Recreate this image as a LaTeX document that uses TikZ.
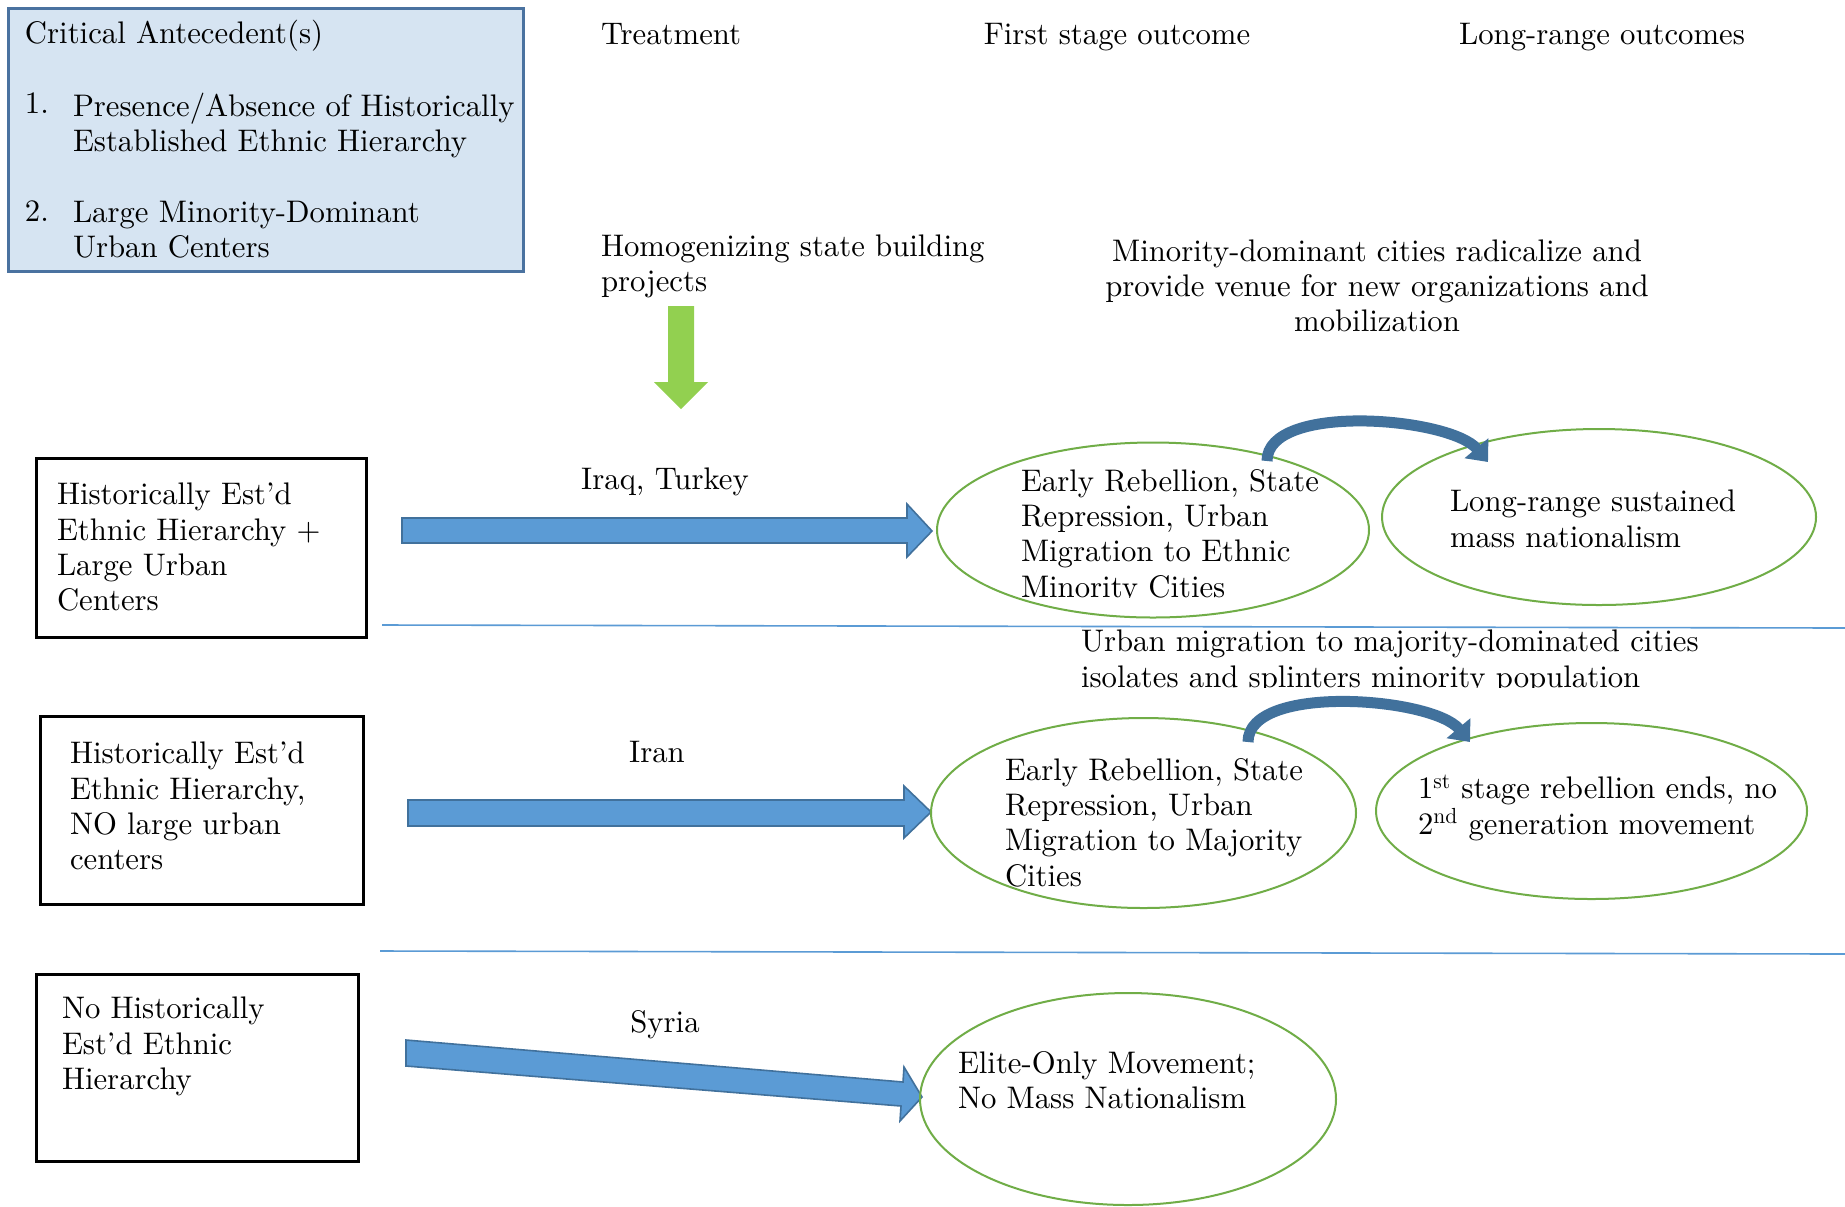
\documentclass[tikz,border=0pt]{standalone}
\usepackage{fontspec}
\setmainfont{lmroman10-regular.otf}[FakeStretch=0.985]
\usetikzlibrary{shapes.geometric,arrows.meta,calc}
\definecolor{boxfill}{RGB}{214,228,242}
\definecolor{boxline}{RGB}{74,114,160}
\definecolor{arrowfill}{RGB}{91,155,213}
\definecolor{arrowline}{RGB}{65,113,156}
\definecolor{curvecol}{RGB}{65,113,156}
\definecolor{greenarrow}{RGB}{146,208,80}
\definecolor{ellcol}{RGB}{112,173,71}
\definecolor{sepcol}{RGB}{91,155,213}
\begin{document}
\begin{tikzpicture}[x=0.5pt,y=-0.5pt,
  txt/.style={inner sep=0pt, outer sep=0pt, align=left, anchor=north west, font=\fontsize{15.6}{17.7}\selectfont},
  ctxt/.style={inner sep=0pt, outer sep=0pt, align=center, anchor=north, font=\fontsize{15.6}{17.7}\selectfont},
  casebox/.style={draw=black, line width=1.5pt, rectangle, inner sep=0pt},
  outcome/.style={draw=ellcol, line width=1pt, ellipse, inner sep=0pt},
  blockarrow/.style={fill=arrowfill, draw=arrowline, line width=0.8pt, line join=miter},
  curvearrow/.style={draw=curvecol, line width=5.5pt, -{Triangle[width=15pt,length=9pt]}},
  sepline/.style={draw=sepcol, line width=0.8pt}]
\useasboundingbox[fill=white] (0,0) rectangle (1845,1206);

% Critical antecedents box
\node[rectangle, fill=boxfill, draw=boxline, line width=1.5pt, minimum width=257.5pt, minimum height=131.5pt, inner sep=0pt] (crit) at (265.5,139.5) {};
\node[txt] (crittitle) at (25,20) {Critical Antecedent(s)};
\node[txt] (num1) at (25,93) {1.};
\node[txt] (item1) at (73,93) {Presence/Absence of Historically\\Established Ethnic Hierarchy};
\node[txt] (num2) at (25,201) {2.};
\node[txt] (item2) at (73,201) {Large Minority-Dominant\\Urban Centers};

% headers
\node[txt] (hTreat) at (601,23) {Treatment};
\node[ctxt] (hFirst) at (1117,23) {First stage outcome};
\node[ctxt] (hLong) at (1602,23) {Long-range outcomes};

\node[txt, font=\fontsize{15.6}{17.5}\selectfont] (homog) at (601,235) {Homogenizing state building\\projects};
\node[ctxt, font=\fontsize{15.6}{17.4}\selectfont] (radical) at (1377,240) {Minority-dominant cities radicalize and\\provide venue for new organizations and\\mobilization};

% green arrow
\fill[greenarrow] (668,306) -- (694,306) -- (694,382) -- (708,382) -- (681,409) -- (654,382) -- (668,382) -- cycle;

% separators
\draw[sepline] (382,625) -- (1845,628);
\draw[sepline] (380,951) -- (1845,954);

% Row 1
\node[casebox, minimum width=165pt, minimum height=89.5pt] (case1) at (201,547.5) {};
\node[txt] (case1t) at (57,483) {Historically Est'd\\Ethnic Hierarchy +\\Large Urban\\Centers};
\node[ctxt] (lab1) at (665,468) {Iraq, Turkey};
\draw[blockarrow] (402,518) -- (907,518) -- (907,504) -- (932,531) -- (907,557) -- (907,543) -- (402,543) -- cycle;
\node[outcome, minimum width=216pt, minimum height=87.5pt] (e1) at (1153,530) {};
\node[outcome, minimum width=217pt, minimum height=88pt] (e2) at (1599,517) {};
\begin{scope}
\clip (0,0) rectangle (1845,597);
\node[txt] (e1t) at (1021,469) {Early Rebellion, State\\Repression, Urban\\Migration to Ethnic\\Minority Cities};
\end{scope}
\node[txt] (e2t) at (1450,490) {Long-range sustained\\mass nationalism};
\draw[curvearrow] ($(e1.center)+(114,-69)$) to[out=90, in=130, looseness=0.68] ($(e2.center)+(-111,-55)$);

% Row 2
\begin{scope}
\clip (0,0) rectangle (1845,687);
\node[txt] (urban) at (1081,630) {Urban migration to majority-dominated cities\\isolates and splinters minority population};
\end{scope}
\node[casebox, minimum width=161.5pt, minimum height=94pt] (case2) at (201.5,810) {};
\node[txt] (case2t) at (70,742) {Historically Est'd\\Ethnic Hierarchy,\\NO large urban\\centers};
\node[ctxt] (lab2) at (657,741) {Iran};
\draw[blockarrow] (408,800) -- (904,800) -- (904,786) -- (931,812) -- (904,838) -- (904,826) -- (408,826) -- cycle;
\node[outcome, minimum width=212.5pt, minimum height=95pt] (e3) at (1143.5,813) {};
\node[outcome, minimum width=215.5pt, minimum height=88pt] (e4) at (1591.5,811) {};
\node[txt] (e3t) at (1005,758) {Early Rebellion, State\\Repression, Urban\\Migration to Majority\\Cities};
\node[txt] (e4t) at (1418,775) {1\textsuperscript{st} stage rebellion ends, no\\2\textsuperscript{nd} generation movement};
\draw[curvearrow] ($(e3.center)+(104.5,-71)$) to[out=90, in=130, looseness=0.68] ($(e4.center)+(-121.5,-69)$);

% Row 3
\node[casebox, minimum width=161pt, minimum height=93.5pt] (case3) at (197,1067.5) {};
\node[txt] (case3t) at (62,997) {No Historically\\Est'd Ethnic\\Hierarchy};
\node[ctxt] (lab3) at (665,1010) {Syria};
\draw[blockarrow] (406,1040) -- (903,1082) -- (904,1067) -- (922,1097) -- (900,1121) -- (901,1106) -- (406,1066) -- cycle;
\node[outcome, minimum width=208pt, minimum height=106pt] (e5) at (1128,1099) {};
\node[txt] (e5t) at (958,1051) {Elite-Only Movement;\\No Mass Nationalism};
\end{tikzpicture}
\end{document}
